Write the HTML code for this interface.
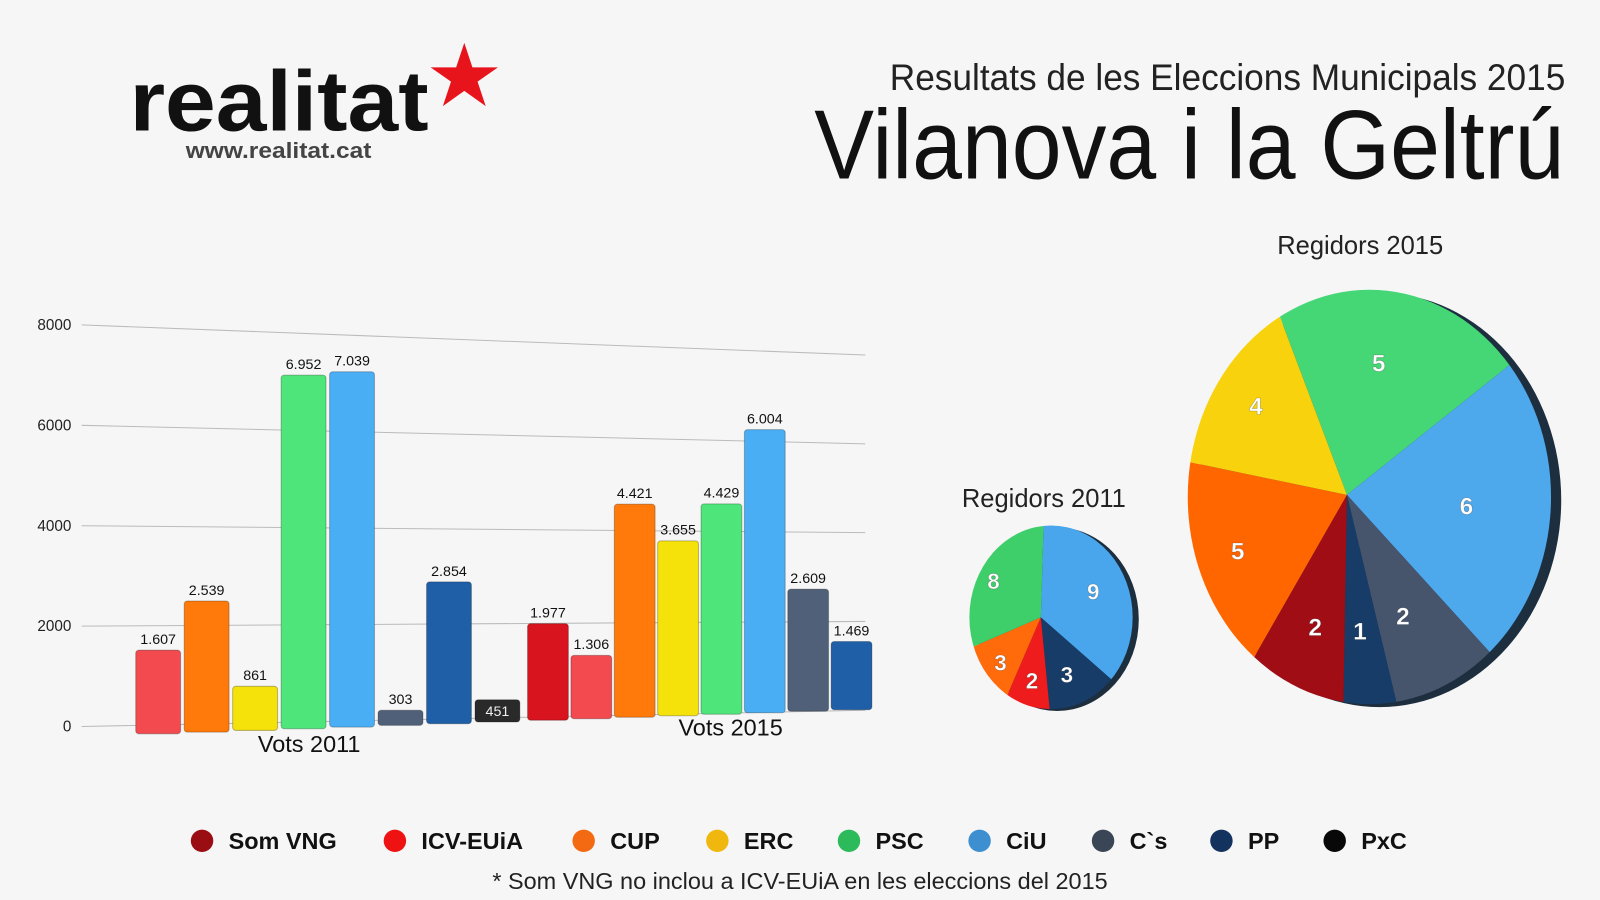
<!DOCTYPE html>
<html><head><meta charset="utf-8">
<style>
html,body{margin:0;padding:0;background:#f6f6f6;overflow:hidden;width:1600px;height:900px}
#wrap{position:absolute;left:0;top:0;width:1600px;height:900px;font-family:"Liberation Sans",sans-serif;background:#f6f6f6;overflow:hidden}
svg{display:block}
</style></head><body>
<div id="wrap">
<svg id="svg" width="1600" height="900" viewBox="0 0 1568 882">
  <g>
    <text x="127" y="128" font-size="84" font-weight="bold" fill="#111" textLength="293" lengthAdjust="spacingAndGlyphs">realitat</text>
    <polygon points="455,42 463,66 488,66 468,80 476,104 455,89 434,104 442,80 422,66 447,66" fill="#e8141c"/>
    <text x="182" y="155" font-size="22" font-weight="bold" fill="#444" textLength="182" lengthAdjust="spacingAndGlyphs">www.realitat.cat</text>
  </g>
  <text x="872" y="88" font-size="36" fill="#222" textLength="662" lengthAdjust="spacingAndGlyphs">Resultats de les Eleccions Municipals 2015</text>
  <text x="798" y="175" font-size="96" fill="#111" textLength="735" lengthAdjust="spacingAndGlyphs">Vilanova i la Geltrú</text>
  <g id="bars"></g>
  <g id="pies"></g>
  <g id="legend"></g>
  <text x="784" y="871" text-anchor="middle" font-size="23" fill="#222">* Som VNG no inclou a ICV-EUiA en les eleccions del 2015</text>
</svg>
</div>
<script>
const NS="http://www.w3.org/2000/svg";
// ---- bar data ----
const barLabels=["ICV-EUiA 2011","CUP 2011","ERC 2011","PSC 2011","CiU 2011","C's 2011","PP 2011","PxC 2011","Som VNG 2015","ICV-EUiA 2015","CUP 2015","ERC 2015","PSC 2015","CiU 2015","C's 2015","PP 2015"];
const barValues=[1607,2539,861,6952,7039,303,2854,451,1977,1306,4421,3655,4429,6004,2609,1469];
const barPrinted=["1.607","2.539","861","6.952","7.039","303","2.854","451","1.977","1.306","4.421","3.655","4.429","6.004","2.609","1.469"];
const barColors=["#f24a4f","#ff7a0a","#f5e20a","#4ee57a","#4aaef5","#4f6078","#1e5fa8","#2a2a2a","#d8141e","#f24a4f","#ff7a0a","#f5e20a","#4ee57a","#4aaef5","#4f6078","#1e5fa8"];
const yTicks=[0,2000,4000,6000,8000];
// ---- pie data ----
const pie2011Labels=["CiU","PP","ICV-EUiA","CUP","PSC"];
const pie2011Values=[9,3,2,3,8];
const pie2011Colors=["#4aa6ec","#173c68","#ee1c1c","#ff6a0a","#3fcf6a"];
const pie2015Labels=["PSC","CiU","C's","PP","Som VNG","CUP","ERC"];
const pie2015Values=[5,6,2,1,2,5,4];
const pie2015Colors=["#45d676","#4ea8ec","#46546c","#173c68","#a00d14","#ff6600","#f9d20e"];
const legendNames=["Som VNG","ICV-EUiA","CUP","ERC","PSC","CiU","C`s","PP","PxC"];
const legendColors=["#9a0d12","#ee1212","#f36a12","#f0b80e","#2dba5a","#3e8fd0","#3a4556","#13325e","#080808"];

function el(t,a,p){const e=document.createElementNS(NS,t);for(const k in a)e.setAttribute(k,a[k]);if(p)p.appendChild(e);return e;}
const bars=document.getElementById('bars');
function gBase(x){return 712-(x-80)*(16/770);}
function gPx(x){return 0.0492-(x-80)*(0.0057/770);}
function gY(v,x){return gBase(x)-v*gPx(x);}
function bBase(x){return 720-(x-130)*(25/720);}
function bPx(x){return 0.0512-(x-130)*(0.0058/720);}
yTicks.forEach(t=>{
  const l=el('line',{x1:80,y1:gY(t,80),x2:848,y2:gY(t,848),stroke:'#bbb','stroke-width':1},bars);
  
  
  const tx=el('text',{x:70,y:gY(t,80)+5,'text-anchor':'end','font-size':15,fill:'#222'},bars);
  tx.textContent=t;
  
  
});
const xs=[]; for(let i=0;i<16;i++){xs.push(i<8?133+i*47.5:517+(i-8)*42.5);}
barValues.forEach((v,i)=>{
  const x=xs[i], w=i<8?44:40, cx=x+w/2;
  const bot=bBase(cx);
  const top=bot-v*bPx(cx);
  const r=el('rect',{x:x,y:top,width:w,height:Math.max(2,bot-top),rx:3,fill:barColors[i],stroke:'rgba(0,0,0,0.25)','stroke-width':1},bars);
  
  
  const inside=i===7;
  const t=el('text',{x:cx,y:inside?top+16:top-6,'text-anchor':'middle','font-size':14,fill:inside?'#eee':'#111'},bars);
  t.textContent=barPrinted[i];
  
  
});
[[303,737,"Vots 2011"],[716,721,"Vots 2015"]].forEach(([x,y,s])=>{
  const t=el('text',{x:x,y:y,'text-anchor':'middle','font-size':23,fill:'#111'},bars);t.textContent=s;
  
  
});
const pies=document.getElementById('pies');
function pie(vx,vy,ecx,ecy,rx,ry,start,vals,cols,labels,fs,lr,name,depth){
  const g=el('g',{},pies);
  
  
  const cid='clip'+name;
  const cp=el('clipPath',{id:cid},g); el('ellipse',{cx:ecx,cy:ecy,rx:rx,ry:ry},cp);
  el('ellipse',{cx:ecx+depth,cy:ecy+depth*0.3,rx:rx,ry:ry,fill:'#1d2e3e'},g);
  const tot=vals.reduce((a,b)=>a+b,0); let a=start;
  vals.forEach((v,i)=>{
    const a2=a+v/tot*2*Math.PI, R=600;
    let d=`M${vx},${vy}`; const n=20;
    for(let k=0;k<=n;k++){const t=a+(a2-a)*k/n;d+=` L${vx+R*Math.sin(t)},${vy-R*Math.cos(t)}`;}
    const p=el('path',{d:d+'Z',fill:cols[i],'clip-path':`url(#${cid})`},g);
    
    
    const m=(a+a2)/2;
    const t=el('text',{x:vx+lr*rx*Math.sin(m),y:vy-lr*ry*Math.cos(m)+fs*0.35,'text-anchor':'middle','font-size':fs,'font-weight':'bold',fill:'#fff',stroke:'rgba(0,0,0,0.3)','stroke-width':0.6},g);
    t.textContent=v;
    
    
    a=a2;
  });
}
pie(1320,485,1342,487,178,203,-0.36,pie2015Values,pie2015Colors,pie2015Labels,24,0.66,'pie-2015',10);
pie(1020,605,1030,605,80,90,0.03,pie2011Values,pie2011Colors,pie2011Labels,22,0.7,'pie-2011',6);
[[1333,249,"Regidors 2015"],[1023,497,"Regidors 2011"]].forEach(([x,y,s])=>{
  const t=el('text',{x:x,y:y,'text-anchor':'middle','font-size':25,fill:'#222'},pies);t.textContent=s;
  
  
});
const lg=document.getElementById('legend');
const lx=[198,387,572,703,832,960,1081,1197,1308];
legendNames.forEach((n,i)=>{
  const g=el('g',{},lg);
  
  
  el('circle',{cx:lx[i],cy:824,r:11,fill:legendColors[i]},g);
  const t=el('text',{x:lx[i]+26,y:832,'font-size':23,'font-weight':'bold',fill:'#111'},g);t.textContent=n;
});
</script>
</body></html>
